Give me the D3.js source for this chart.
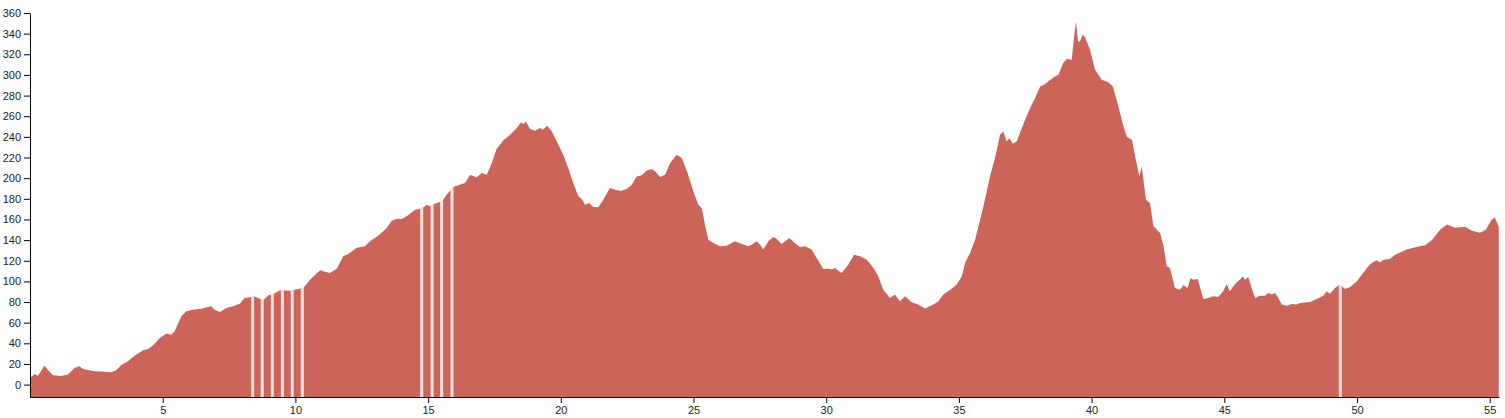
<!DOCTYPE html>
<html>
<head>
<meta charset="utf-8">
<script src="https://cdn.jsdelivr.net/npm/d3@7"></script>
<style>
  html, body { margin: 0; padding: 0; background: #fff; }
  svg { display: block; font-family: "Liberation Sans", Arial, sans-serif; }
  .axis text { font-size: 11px; fill: #222; }
  .axis path, .axis line { stroke: #000; }
</style>
</head>
<body>
<svg id="chart" width="1505" height="418"></svg>
<script>
// distance along route (km)
const distanceKm = [
  0.00, 0.18, 0.30, 0.55, 0.68, 0.87, 1.18, 1.43, 1.68, 1.87, 2.00, 2.44, 2.69, 3.06, 3.25, 3.44, 3.69, 3.94,
  4.26, 4.45, 4.63, 4.89, 5.14, 5.32, 5.45, 5.70, 5.89, 6.14, 6.45, 6.83, 6.96, 7.15, 7.40, 7.65, 7.90, 8.09,
  8.47, 8.79, 8.98, 9.17, 9.42, 9.80, 10.05, 10.30, 10.55, 10.93, 11.12, 11.30, 11.56, 11.80, 11.99, 12.31,
  12.62, 12.81, 13.12, 13.44, 13.63, 13.82, 14.01, 14.25, 14.51, 14.76, 14.95, 15.07, 15.32, 15.51, 15.70,
  15.95, 16.27, 16.39, 16.58, 16.83, 17.02, 17.21, 17.40, 17.58, 17.83, 18.09, 18.34, 18.50, 18.59, 18.68,
  18.84, 19.03, 19.22, 19.32, 19.49, 19.66, 19.85, 20.09, 20.28, 20.47, 20.66, 20.79, 20.91, 21.07, 21.22,
  21.41, 21.60, 21.85, 22.11, 22.29, 22.48, 22.67, 22.86, 23.05, 23.24, 23.43, 23.55, 23.74, 23.93, 24.12,
  24.37, 24.56, 24.80, 24.99, 25.18, 25.31, 25.43, 25.56, 25.75, 26.00, 26.25, 26.56, 26.82, 27.06, 27.19,
  27.38, 27.51, 27.63, 27.82, 28.01, 28.14, 28.32, 28.61, 28.82, 29.01, 29.20, 29.45, 29.64, 29.89, 30.08,
  30.21, 30.33, 30.58, 30.83, 31.05, 31.27, 31.53, 31.78, 31.96, 32.15, 32.40, 32.59, 32.78, 32.97, 33.22,
  33.46, 33.72, 34.04, 34.23, 34.41, 34.67, 34.92, 35.11, 35.23, 35.42, 35.61, 35.80, 35.98, 36.17, 36.36,
  36.55, 36.67, 36.80, 36.90, 37.03, 37.18, 37.37, 37.55, 37.74, 37.87, 38.06, 38.21, 38.37, 38.62, 38.75,
  38.93, 39.06, 39.25, 39.34, 39.41, 39.49, 39.56, 39.66, 39.75, 39.94, 40.13, 40.38, 40.63, 40.80, 41.01,
  41.20, 41.33, 41.52, 41.64, 41.80, 41.89, 42.05, 42.20, 42.33, 42.58, 42.71, 42.83, 42.95, 43.14, 43.33,
  43.46, 43.61, 43.73, 43.83, 44.00, 44.21, 44.40, 44.59, 44.77, 44.96, 45.09, 45.21, 45.34, 45.47, 45.59,
  45.69, 45.78, 45.90, 46.03, 46.16, 46.34, 46.53, 46.66, 46.79, 46.91, 47.04, 47.16, 47.35, 47.54, 47.73,
  47.85, 48.23, 48.48, 48.73, 48.86, 48.98, 49.17, 49.30, 49.43, 49.55, 49.74, 49.99, 50.18, 50.37, 50.55,
  50.74, 50.87, 50.99, 51.24, 51.43, 51.62, 51.87, 52.19, 52.56, 52.83, 53.13, 53.39, 53.69, 54.07, 54.33,
  54.63, 54.85, 55.08, 55.19, 55.34
];
// elevation (m)
const elevation = [
  6.5, 10.4, 8.7, 18.4, 13.9, 9.0, 8.4, 9.7, 16.2, 17.7, 15.2, 12.9, 12.6, 11.9, 13.9, 19.0, 22.6, 28.0,
  33.2, 34.6, 37.8, 45.2, 49.4, 48.4, 51.6, 66.2, 71.0, 72.6, 73.6, 75.8, 72.6, 70.4, 74.3, 75.8, 78.4, 84.0,
  85.3, 81.7, 86.5, 87.8, 91.3, 91.0, 92.3, 93.6, 101.7, 110.7, 109.4, 108.2, 112.3, 124.3, 126.6, 132.7,
  134.0, 138.8, 144.3, 151.8, 158.8, 160.8, 160.5, 164.0, 169.5, 170.5, 174.3, 172.7, 176.0, 177.5, 184.0,
  191.4, 194.4, 195.3, 203.4, 200.8, 205.0, 203.4, 214.7, 228.2, 236.6, 242.1, 248.6, 254.0, 252.5, 255.0,
  247.6, 246.0, 248.6, 247.0, 250.8, 245.3, 235.6, 222.8, 209.9, 195.3, 182.4, 179.8, 174.3, 176.0, 172.1,
  171.7, 179.2, 190.5, 188.2, 187.9, 189.5, 193.7, 201.7, 202.7, 207.5, 208.9, 206.6, 201.1, 203.4, 214.7,
  222.8, 219.5, 203.4, 187.2, 174.3, 171.1, 155.0, 140.4, 137.2, 134.0, 134.6, 138.8, 136.3, 134.0, 135.6,
  138.8, 135.6, 130.8, 138.8, 143.0, 141.0, 136.3, 142.0, 137.2, 133.3, 134.0, 130.8, 122.7, 112.1, 112.3,
  111.4, 113.0, 108.2, 116.2, 125.9, 124.3, 121.0, 113.0, 104.9, 92.0, 84.0, 87.2, 80.7, 85.5, 79.7,
  77.5, 73.8, 77.5, 80.7, 87.2, 92.0, 96.9, 104.9, 117.9, 127.6, 140.4, 159.8, 179.2, 201.7, 219.5,
  242.1, 245.3, 235.6, 238.8, 233.4, 235.6, 248.6, 259.9, 271.2, 277.7, 288.9, 290.6, 293.8, 298.6, 300.2,
  311.5, 315.4, 314.8, 337.3, 351.8, 332.5, 332.5, 339.0, 336.7, 324.5, 305.1, 295.4, 292.9, 288.9, 269.5,
  250.1, 239.8, 237.3, 221.1, 201.7, 211.4, 179.2, 176.0, 153.4, 146.9, 134.0, 114.6, 113.0, 93.6, 92.0,
  96.2, 93.6, 103.3, 101.7, 102.3, 83.0, 84.0, 85.5, 84.9, 90.4, 97.5, 90.4, 95.2, 99.1, 101.7,
  104.9, 101.7, 104.3, 93.6, 84.0, 86.2, 86.2, 88.8, 87.2, 88.8, 84.0, 77.5, 76.5, 78.2, 77.5,
  79.1, 80.1, 83.0, 86.2, 90.4, 88.1, 93.6, 95.9, 95.2, 92.7, 94.6, 100.0, 106.5, 113.0, 117.9,
  120.4, 118.4, 121.0, 121.7, 125.9, 128.1, 130.8, 133.0, 135.0, 140.0, 150.0, 155.0, 152.0, 153.0, 149.0,
  147.0, 150.0, 160.0, 162.0, 153.0
];
// positions (km) of the light markers across the profile
const markerKm = [8.39, 8.75, 9.13, 9.51, 9.88, 10.26, 14.76, 15.15, 15.51, 15.90, 49.37];
// tick labels
const xTicks = [5, 10, 15, 20, 25, 30, 35, 40, 45, 50, 55];
const yTicks = [0, 20, 40, 60, 80, 100, 120, 140, 160, 180, 200, 220, 240, 260, 280, 300, 320, 340, 360];

const data = distanceKm.map((d, i) => ({ km: d, ele: elevation[i] }));

const svg = d3.select("#chart");
const x = d3.scaleLinear().domain([0, 55.35]).range([30, 1499]);
const y = d3.scaleLinear().domain([-12, 360]).range([397, 13]);

const area = d3.area()
  .x(d => x(d.km))
  .y0(y(-12))
  .y1(d => y(d.ele))
  .curve(d3.curveLinear);

svg.append("defs").append("clipPath").attr("id", "areaClip")
  .append("path").attr("d", area(data));

svg.append("path")
  .datum(data)
  .attr("d", area)
  .attr("fill", "#cd6459");

svg.append("g").attr("clip-path", "url(#areaClip)")
  .selectAll("line").data(markerKm).join("line")
  .attr("x1", d => x(d)).attr("x2", d => x(d))
  .attr("y1", y(-12)).attr("y2", y(360))
  .attr("stroke", "#fae3e0")
  .attr("stroke-width", 3);

svg.append("g").attr("class", "axis")
  .attr("transform", `translate(0,${y(-12)})`)
  .call(d3.axisBottom(x).tickValues(xTicks).tickSizeOuter(0));

svg.append("g").attr("class", "axis")
  .attr("transform", `translate(${x(0)},0)`)
  .call(d3.axisLeft(y).tickValues(yTicks).tickSizeOuter(0));
</script>
</body>
</html>
